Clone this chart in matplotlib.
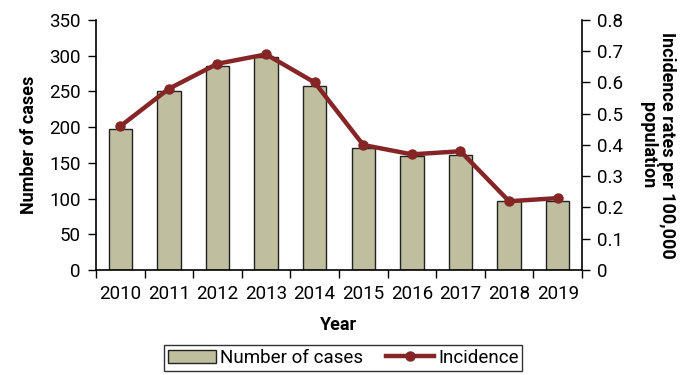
import matplotlib.pyplot as plt
import numpy as np
import matplotlib as mpl
from matplotlib.patches import Patch
from matplotlib.lines import Line2D

mpl.rcParams['font.family'] = ['Roboto', 'DejaVu Sans']

years = ['2010', '2011', '2012', '2013', '2014', '2015', '2016', '2017', '2018', '2019']
cases = [198, 250, 285, 298, 257, 171, 159, 161, 96, 97]
incidence = [0.46, 0.58, 0.66, 0.69, 0.60, 0.40, 0.37, 0.38, 0.22, 0.23]

bar_col = '#BFBF9F'
line_col = '#862525'

fig, ax = plt.subplots(figsize=(6.89, 3.75), dpi=100)
fig.subplots_adjust(left=0.1393, right=0.8447, bottom=0.28, top=0.9467)

x = np.arange(len(years))
ax.bar(x, cases, width=0.48, color=bar_col, edgecolor='#222222', linewidth=1.0, zorder=2)
ax.set_xlim(-0.5, len(years) - 0.5)
ax.set_ylim(0, 350)
ax.set_yticks(np.arange(0, 351, 50))

# Excel-like ticks between categories, labels centered
ax.set_xticks(np.arange(-0.5, len(years), 1.0))
ax.set_xticklabels([])
ax.set_xticks(x, minor=True)
ax.set_xticklabels(years, minor=True)
ax.tick_params(axis='x', which='major', length=6, direction='out', width=1)
ax.tick_params(axis='x', which='minor', length=0, pad=11, labelsize=13.5)
ax.tick_params(axis='y', length=6, width=1, labelsize=13.5, pad=5)
ax.spines['top'].set_visible(False)
ax.spines['right'].set_visible(False)
for s in ['left', 'bottom']:
    ax.spines[s].set_linewidth(1.2)

ax.set_ylabel('Number of cases', fontsize=13, fontweight='bold', labelpad=8)
ax.set_xlabel('Year', fontsize=13, fontweight='bold', labelpad=9)

ax2 = ax.twinx()
ax2.plot(x, incidence, color=line_col, linewidth=3.2, marker='o', markersize=6.5, zorder=3)
ax2.set_ylim(0, 0.8)
ax2.set_yticks(np.arange(0, 0.81, 0.1))
ax2.set_yticklabels(['0' if v == 0 else f'{v:.1f}' for v in np.arange(0, 0.81, 0.1)])
ax2.tick_params(axis='y', length=6, width=1, labelsize=13.5, pad=5)
ax2.spines['top'].set_visible(False)
ax2.spines['left'].set_visible(False)
ax2.spines['bottom'].set_visible(False)
ax2.spines['right'].set_linewidth(1.2)
ax2.set_ylabel('Incidence rates per 100,000\npopulation', fontsize=13, fontweight='bold',
               rotation=270, labelpad=38, linespacing=1.05)

h1 = Patch(facecolor=bar_col, edgecolor='#222222')
h2 = Line2D([0], [0], color=line_col, linewidth=3.2, marker='o', markersize=6.5)
leg = fig.legend((h1, h2), ('Number of cases', 'Incidence'), loc='upper center',
                 bbox_to_anchor=(0.498, 0.09), ncol=2, frameon=True, fancybox=False,
                 edgecolor='black', fontsize=13.5, handlelength=2.6, handletextpad=0.2,
                 columnspacing=1.2, borderpad=0.2, borderaxespad=0.2)
leg.get_frame().set_linewidth(1.0)

plt.savefig('out.png', dpi=100)
